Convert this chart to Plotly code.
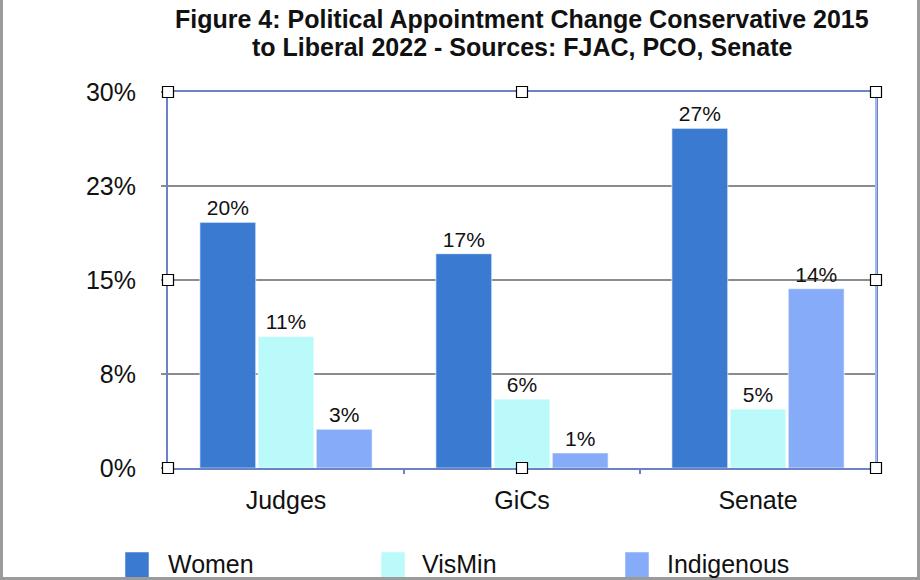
import plotly.graph_objects as go

categories = ["Judges", "GiCs", "Senate"]
women = [19.6, 17.1, 27.1]
vismin = [10.5, 5.5, 4.7]
indigenous = [3.1, 1.2, 14.3]
series_names = ["Women", "VisMin", "Indigenous"]
tick_vals = [0, 7.5, 15, 22.5, 30]
tick_text = ["0%", "8%", "15%", "23%", "30%"]
title_lines = ["Figure 4: Political Appointment Change Conservative 2015",
               "to Liberal 2022 - Sources: FJAC, PCO, Senate"]

colors = ["#3a7ad0", "#bbfafb", "#86abf8"]
FONT = "Liberation Sans, Arial, Helvetica, sans-serif"

W, H = 920, 580
ML, MR, MT, MB = 168, 44, 92, 112
PW, PH = W - ML - MR, H - MT - MB


def fx(p):
    return (p - ML) / PW


def fy(p):
    return (H - MB - p) / PH


fig = go.Figure()
for name, vals, col in zip(series_names, [women, vismin, indigenous], colors):
    fig.add_trace(go.Bar(
        name=name, x=categories, y=vals,
        marker=dict(color=col, line=dict(color="rgba(255,255,255,0.55)", width=1.2)),
        texttemplate="%{y:.0f}%", textposition="outside",
        textfont=dict(family=FONT, size=21, color="#111"),
        cliponaxis=False, showlegend=False,
    ))

shapes = []
fc = "#9b9b9b"
# lighter right edge of plot
shapes.append(dict(type="line", xref="paper", yref="paper", x0=1, x1=1, y0=0, y1=1, line=dict(color="#a3b8f2", width=2)))

annotations = []
# title lines
for line, cy in zip(title_lines, [19, 47]):
    annotations.append(dict(xref="paper", yref="paper", x=fx(522), y=fy(cy), xanchor="center", yanchor="middle",
                            text="<b>" + line + "</b>", showarrow=False,
                            font=dict(family=FONT, size=25, color="#111")))

# legend swatches
leg_sw_x = [125, 381, 625]
leg_txt_x = [166, 420, 665]
for name, col, sx, tx in zip(series_names, colors, leg_sw_x, leg_txt_x):
    shapes.append(dict(type="rect", xref="paper", yref="paper", x0=fx(sx), x1=fx(sx + 24), y0=fy(552), y1=fy(582),
                       fillcolor=col, line=dict(color="rgba(255,255,255,0.5)", width=1)))
    annotations.append(dict(xref="paper", yref="paper", x=fx(tx), y=fy(564), xanchor="left", yanchor="middle",
                            text=name, showarrow=False, font=dict(family=FONT, size=25, color="#111")))

# outer frame (left, right, bottom)
shapes.append(dict(type="line", xref="paper", yref="paper", x0=fx(1.5), x1=fx(1.5), y0=fy(0), y1=fy(578.5), line=dict(color=fc, width=3)))
shapes.append(dict(type="line", xref="paper", yref="paper", x0=fx(918.5), x1=fx(918.5), y0=fy(0), y1=fy(578.5), line=dict(color=fc, width=3)))
shapes.append(dict(type="line", xref="paper", yref="paper", x0=fx(0), x1=fx(920), y0=fy(578.5), y1=fy(578.5), line=dict(color=fc, width=3)))

# selection handles
for hx, hy in [(0, 0), (0.5, 0), (1, 0), (0, 0.5), (1, 0.5), (0, 1), (0.5, 1), (1, 1)]:
    d = 5.5
    shapes.append(dict(type="rect", xref="paper", yref="paper",
                       x0=hx - d / PW, x1=hx + d / PW, y0=hy - d / PH, y1=hy + d / PH,
                       fillcolor="white", line=dict(color="black", width=1.2), layer="above"))

fig.update_layout(
    width=W, height=H,
    margin=dict(l=ML, r=MR, t=MT, b=MB),
    paper_bgcolor="white", plot_bgcolor="white",
    barmode="group", bargap=0.26, bargroupgap=0.04,
    font=dict(family=FONT, color="#111"),
    xaxis=dict(showline=True, linecolor="#6b82c4", linewidth=2, mirror=True,
               ticks="outside", tickson="boundaries", ticklen=4, tickcolor="#6b82c4", tickwidth=1.5,
               tickfont=dict(family=FONT, size=25, color="#111"), ticklabelstandoff=9),
    yaxis=dict(range=[0, 30], tickvals=tick_vals, ticktext=tick_text,
               showline=True, linecolor="#6b82c4", linewidth=2, mirror=True,
               showgrid=True, gridcolor="#8c8c8c", gridwidth=2,
               ticks="outside", ticklen=5, tickcolor="#8c8c8c", tickwidth=2,
               tickfont=dict(family=FONT, size=25, color="#111"), ticklabelstandoff=20,
               zeroline=False),
    shapes=shapes, annotations=annotations,
)

fig.write_html("out.html", config={"displayModeBar": False},
               post_script="document.body.style.margin='0';document.body.style.overflow='hidden';")
